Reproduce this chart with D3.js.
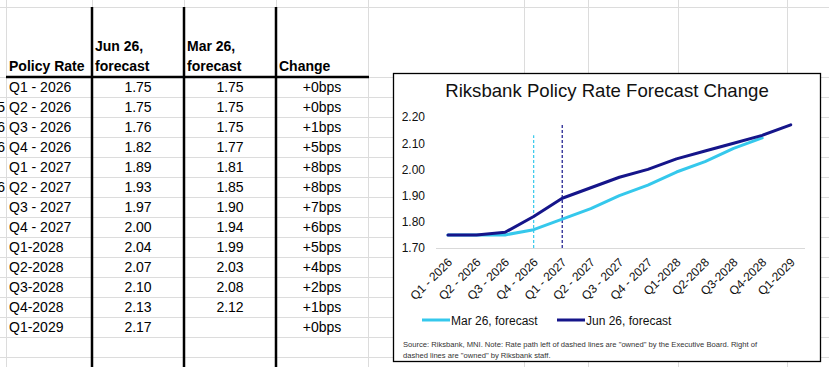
<!DOCTYPE html>
<html>
<head>
<meta charset="utf-8">
<script src="https://cdn.jsdelivr.net/npm/d3@7"></script>
<style>
  body { margin: 0; background: #fff; }
  svg { display: block; font-family: "Liberation Sans", Arial, sans-serif; }
</style>
</head>
<body>
<div id="sheet"></div>
<script>
// values
var quarters = ["Q1 - 2026", "Q2 - 2026", "Q3 - 2026", "Q4 - 2026", "Q1 - 2027", "Q2 - 2027",
    "Q3 - 2027", "Q4 - 2027", "Q1-2028", "Q2-2028", "Q3-2028", "Q4-2028", "Q1-2029"];
var junForecast = [1.75, 1.75, 1.76, 1.82, 1.89, 1.93, 1.97, 2.00, 2.04, 2.07, 2.10, 2.13, 2.17];
var marForecast = [1.75, 1.75, 1.75, 1.77, 1.81, 1.85, 1.90, 1.94, 1.99, 2.03, 2.08, 2.12, null];
var changeBps = [0, 0, 1, 5, 8, 8, 7, 6, 5, 4, 2, 1, 0];
var yTicks = [1.70, 1.80, 1.90, 2.00, 2.10, 2.20];
// clipped bits of the column to the left of the table
var leftFragments = ["", "5", "6", "6", "", "6", "", "", "", "", "", "", ""];
// dashed "ownership" markers
var dashMarks = [
    {quarter: "Q4 - 2026", top: 2.13, series: "mar"},
    {quarter: "Q1 - 2027", top: 2.175, series: "jun"}
];

var colors = {mar: "#35c8ec", jun: "#15158a"};
var W = 829, H = 367;

var svg = d3.select("#sheet").append("svg")
    .attr("width", W)
    .attr("height", H);

// ---- spreadsheet grid ----
var colLines = [6, 92, 184, 276, 368, 524, 588, 678, 787];
var rowLines = [7, 77];
for (var r = 97; r < H; r += 20) rowLines.push(r);

var grid = svg.append("g").attr("stroke", "#dcdcdc").attr("stroke-width", 1);
grid.selectAll(".v").data(colLines).enter().append("line")
    .attr("x1", d => d + 0.5).attr("x2", d => d + 0.5)
    .attr("y1", 0).attr("y2", H);
grid.selectAll(".h").data(rowLines).enter().append("line")
    .attr("x1", 0).attr("x2", W)
    .attr("y1", d => d + 0.5).attr("y2", d => d + 0.5);

// thick borders of the table
var borders = svg.append("g").attr("stroke", "#000").attr("stroke-width", 2.5);
[92, 184, 276].forEach(function (x) {
    borders.append("line").attr("x1", x).attr("x2", x).attr("y1", 7).attr("y2", H);
});
borders.append("line").attr("x1", 6).attr("x2", 369).attr("y1", 77).attr("y2", 77);

// ---- table text ----
var table = svg.append("g").attr("font-size", "14px").attr("fill", "#000");
var head = table.append("g").attr("font-weight", "bold");
head.append("text").attr("x", 9).attr("y", 71).text("Policy Rate");
head.append("text").attr("x", 95).attr("y", 51).text("Jun 26,");
head.append("text").attr("x", 95).attr("y", 71).text("forecast");
head.append("text").attr("x", 187).attr("y", 51).text("Mar 26,");
head.append("text").attr("x", 187).attr("y", 71).text("forecast");
head.append("text").attr("x", 279).attr("y", 71).text("Change");

// clip for the neighbouring column (local to each row)
svg.append("clipPath").attr("id", "colA").append("rect")
    .attr("x", 0).attr("y", -18).attr("width", 6).attr("height", 22);

var rows = table.selectAll(".row").data(quarters).enter().append("g")
    .attr("transform", (d, i) => "translate(0," + (77 + i * 20 + 15) + ")");
rows.append("text").attr("x", 9).text(d => d);
rows.append("text").attr("x", 138).attr("text-anchor", "middle")
    .text((d, i) => junForecast[i].toFixed(2));
rows.append("text").attr("x", 230).attr("text-anchor", "middle")
    .text((d, i) => marForecast[i] == null ? "" : marForecast[i].toFixed(2));
rows.append("text").attr("x", 322).attr("text-anchor", "middle")
    .text((d, i) => "+" + changeBps[i] + "bps");
rows.append("text").attr("x", 5).attr("text-anchor", "end")
    .attr("clip-path", "url(#colA)")
    .text((d, i) => leftFragments[i]);

// ---- chart box ----
var box = {x: 393.5, y: 73.5, w: 427, h: 288};
svg.append("rect")
    .attr("x", box.x).attr("y", box.y)
    .attr("width", box.w).attr("height", box.h)
    .attr("fill", "#fff").attr("stroke", "#000").attr("stroke-width", 1.3);

svg.append("text")
    .attr("x", 607).attr("y", 97)
    .attr("text-anchor", "middle")
    .style("font-size", "18.6px")
    .attr("fill", "#111")
    .text("Riksbank Policy Rate Forecast Change");

var xScale = d3.scaleBand().domain(quarters).range([433.7, 805]);
var yScale = d3.scaleLinear().domain([1.70, 2.20]).range([248, 117]);
var xc = q => xScale(q) + xScale.bandwidth() / 2;

var yAxis = d3.axisLeft(yScale).tickValues(yTicks).tickSize(0).tickPadding(0)
    .tickFormat(d3.format(".2f"));
var yG = svg.append("g").attr("transform", "translate(425,0)").call(yAxis);
yG.select(".domain").remove();
yG.selectAll("text").style("font-size", "12px").attr("fill", "#111")
    .style("font-family", "Liberation Sans, Arial, sans-serif");

var xAxis = d3.axisBottom(xScale).tickSize(0).tickSizeOuter(0);
var xG = svg.append("g").attr("transform", "translate(0,248)").call(xAxis);
xG.select(".domain").attr("stroke", "#d9d9d9").attr("d", "M436,0.5H805");
xG.selectAll("text")
    .style("font-size", "12px").attr("fill", "#111")
    .style("font-family", "Liberation Sans, Arial, sans-serif")
    .attr("text-anchor", "end")
    .attr("y", 0).attr("dy", "0.35em")
    .attr("transform", "translate(2,12) rotate(-45)");

// dashed markers
svg.selectAll(".dash").data(dashMarks).enter().append("line")
    .attr("x1", d => xc(d.quarter)).attr("x2", d => xc(d.quarter))
    .attr("y1", 248).attr("y2", d => yScale(d.top))
    .attr("stroke", d => colors[d.series])
    .attr("stroke-width", 1.2)
    .attr("stroke-dasharray", "3,2");

var line = d3.line()
    .defined(d => d.v != null)
    .x(d => xc(d.q))
    .y(d => yScale(d.v));

var series = [
    {key: "mar", name: "Mar 26, forecast", values: marForecast},
    {key: "jun", name: "Jun 26, forecast", values: junForecast}
];
series.forEach(function (s) {
    svg.append("path")
        .datum(quarters.map((q, i) => ({q: q, v: s.values[i]})))
        .attr("d", line)
        .attr("fill", "none")
        .attr("stroke", colors[s.key])
        .attr("stroke-width", 3)
        .attr("stroke-linecap", "round")
        .attr("stroke-linejoin", "round");
});

// legend
var legend = svg.selectAll(".leg").data(series).enter().append("g")
    .attr("transform", (d, i) => "translate(" + (422 + i * 135) + ",320)");
legend.append("line")
    .attr("x1", 0).attr("x2", 28)
    .attr("stroke", d => colors[d.key]).attr("stroke-width", 3);
legend.append("text")
    .attr("x", 29).attr("y", 4.5)
    .style("font-size", "12px").attr("fill", "#111")
    .text(d => d.name);

// source note
var note = svg.append("g").style("font-size", "7.6px").attr("fill", "#333");
note.append("text").attr("x", 403).attr("y", 347)
    .text('Source: Riksbank, MNI. Note: Rate path left of dashed lines are "owned" by the Executive Board. Right of');
note.append("text").attr("x", 403).attr("y", 358)
    .text('dashed lines are "owned" by Riksbank staff.');
</script>
</body>
</html>
